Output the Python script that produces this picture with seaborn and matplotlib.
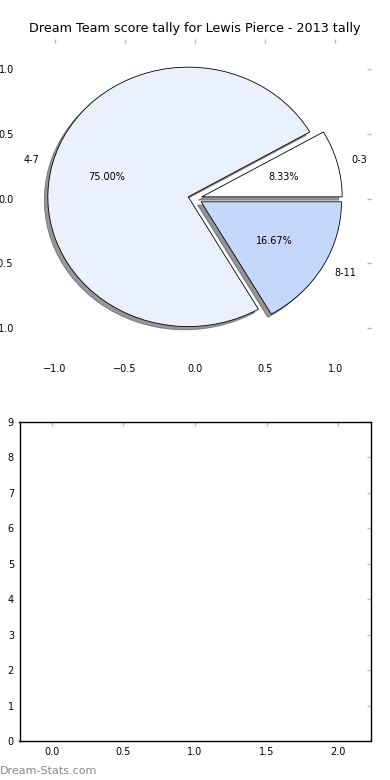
import seaborn as sns
import matplotlib.pyplot as plt

TITLE = "Dream Team score tally for Lewis Pierce - 2013 tally"
labels = ["0-3", "4-7", "8-11"]
counts = [1, 9, 2]
colors = ["#FFFFFF", "#EAF0FC", "#C5D8FC"]
explode = [0.05, 0.05, 0.05]
pie_ticks = [-1.0, -0.5, 0.0, 0.5, 1.0]
bar_xticks = [0.0, 0.5, 1.0, 1.5, 2.0]
bar_yticks = list(range(10))

sns.set_style("white")
plt.rcParams["font.family"] = ["DejaVu Sans"]
plt.rcParams["text.color"] = "black"

fig, (ax1, ax2) = plt.subplots(2, 1, figsize=(3.9, 7.8), dpi=100)
fig.subplots_adjust(left=0.05, right=0.95, top=0.95, bottom=0.05, hspace=0.2)

wedges, texts, autotexts = ax1.pie(counts, labels=labels, colors=colors, explode=explode,
                                   autopct="%1.2f%%",
                                   shadow={"ox": -0.018, "oy": -0.018, "shade": 0.8},
                                   startangle=0,
                                   wedgeprops={"edgecolor": "black", "linewidth": 0.6},
                                   textprops={"fontsize": 7, "color": "black"})
ax1.set_aspect("auto")
ax1.set_frame_on(False)
ax1.set_xlim(-1.25, 1.25)
ax1.set_ylim(-1.23, 1.23)
ax1.set_xticks(pie_ticks)
ax1.set_yticks(pie_ticks)
ax1.set_title(TITLE, fontsize=9.2, pad=5, color="black")

ax2.set_xlim(-0.225, 2.225)
ax2.set_ylim(0, 9)
ax2.set_xticks(bar_xticks)
ax2.set_yticks(bar_yticks)
for s in ax2.spines.values():
    s.set_color("black")
    s.set_linewidth(1.0)

for ax in (ax1, ax2):
    ax.tick_params(direction="in", length=3, width=1, color="#bbbbbb",
                   labelcolor="black", labelsize=7, pad=4, top=True, right=True)

fig.text(0.0, 0.008, "Dream-Stats.com", color="#888888", fontsize=8)

plt.savefig("out.png")
